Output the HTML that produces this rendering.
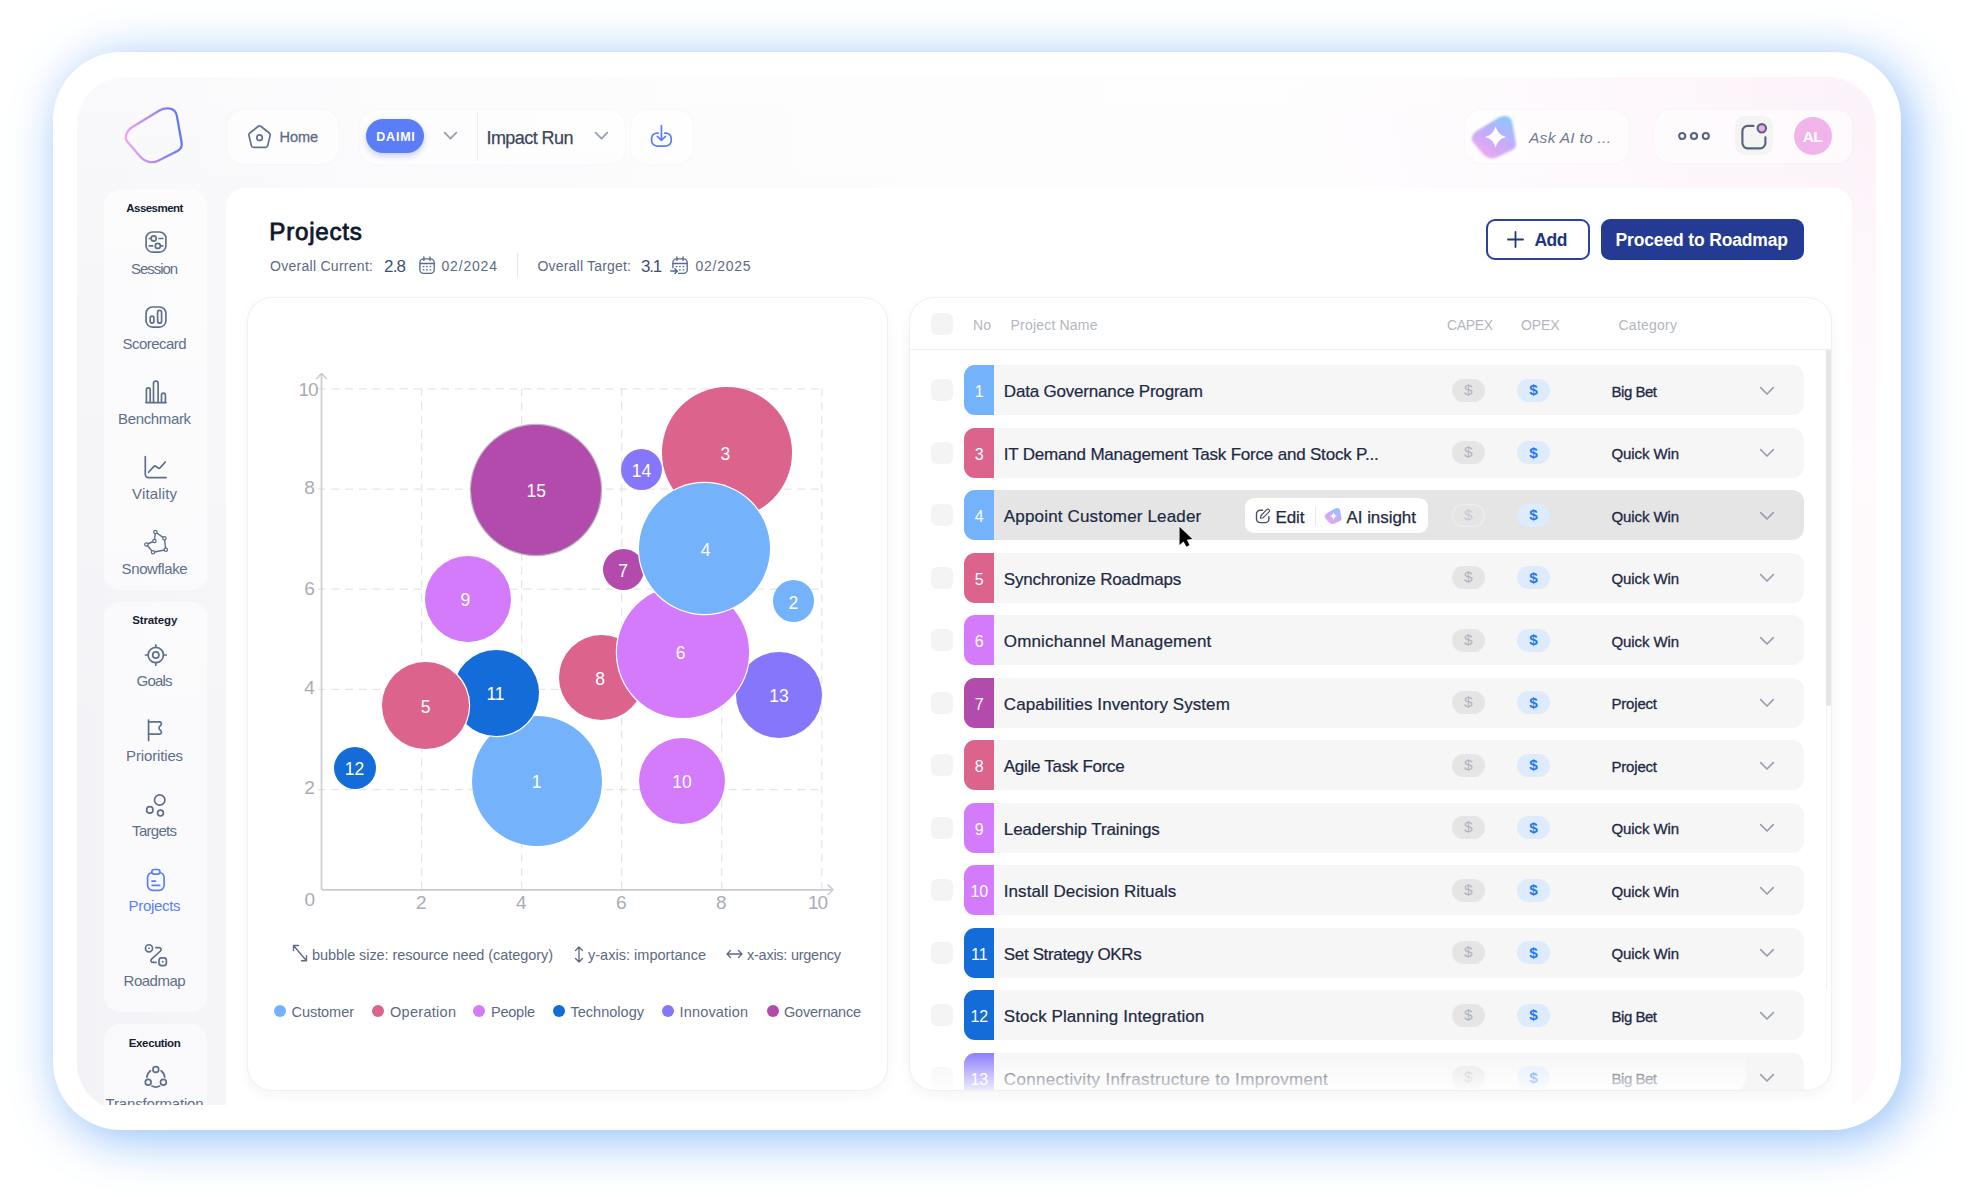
<!DOCTYPE html>
<html lang="en">
<head>
<meta charset="utf-8">
<title>Projects</title>
<style>
html,body{margin:0;padding:0;background:#fff;}
body{width:1968px;height:1197px;overflow:hidden;position:relative;font-family:'Liberation Sans',sans-serif;}
.abs,.t,svg.i{position:absolute;}
.t{white-space:pre;display:block;}
.frame{left:52.5px;top:52px;width:1848px;height:1077.5px;border-radius:68px;background:#fff;
 box-shadow:8px 8px 50px 0 rgba(113,173,247,.8);}
.innerclip{left:77px;top:77px;width:1799px;height:1028px;overflow:hidden;}
.inner{left:0;top:0;width:1799px;height:1034px;border-radius:48px;
 background:radial-gradient(ellipse 600px 400px at 100% 0,rgba(249,222,242,.34) 0,rgba(250,230,245,.18) 50%,rgba(252,240,248,0) 100%),linear-gradient(180deg,rgba(255,255,255,.55) 0,rgba(255,255,255,.35) 120px,rgba(255,255,255,0) 700px),linear-gradient(90deg,#f3f3f7 0%,#f7f7fa 14%,#fbfbfc 45%,#fdfcfd 72%,#fef9fc 100%);}
.main{left:226.200px;top:188.400px;width:1625.600px;height:930px;background:#fff;border-radius:19px 19px 0 0;}
.pill{background:rgba(255,255,255,.5);border-radius:16px;box-shadow:0 0 0 1px rgba(238,238,243,.22);}
.grp{background:rgba(255,255,255,.52);border-radius:16px;}
.card{background:#fff;border-radius:24px;box-shadow:0 0 0 1px #f0f0f2,0 5px 14px rgba(40,45,70,.05);}
.row{left:964px;width:840px;height:50px;border-radius:12px;background:#f6f6f6;}
.tab{left:964px;width:30px;height:50px;border-radius:11px 0 0 11px;}
.cb{left:930.5px;width:22px;height:22px;border-radius:6px;background:#f4f4f4;}
.cap{left:1452px;width:33px;height:23px;border-radius:12px;background:#e5e5e5;}
.opx{left:1517px;width:33px;height:23px;border-radius:12px;background:#deebfd;}
svg.i{overflow:visible;fill:none;stroke-linecap:round;stroke-linejoin:round;}
.bub{border-radius:50%;}
</style>
</head>
<body>
<div class="abs frame"></div>
<div class="abs innerclip"><div class="abs inner"></div></div>
<div class="abs" style="left:0;top:0;width:226px;height:1105px;overflow:hidden"><div class="abs grp" style="left:104px;top:190px;width:103px;height:400px"></div>
<div class="abs grp" style="left:104px;top:602px;width:103px;height:410px"></div>
<div class="abs grp" style="left:104px;top:1024px;width:103px;height:200px"></div>
<svg class="i" style="left:143.9px;top:230.0px;" width="24" height="24" viewBox="0 0 24 24" stroke="#5f6f8a" stroke-width="1.68"><rect x="2.1" y="2" width="19.8" height="20.1" rx="6.3"/><circle cx="9.66" cy="8.5" r="2.55"/><path d="M5.300 8.500h1.300M15 8.500h3.800"/><circle cx="13.8" cy="15.9" r="2.55"/><path d="M5.300 15.900h3.300M17.200 15.900h1.600"/></svg>
<svg class="i" style="left:143.9px;top:305.0px;" width="24" height="24" viewBox="0 0 24 24" stroke="#5f6f8a" stroke-width="1.68"><rect x="2.1" y="2" width="19.8" height="20.1" rx="6.3"/><rect x="6.2" y="11.2" width="3.700" height="7" rx="1.850"/><rect x="13.600" y="5.400" width="4" height="12.800" rx="2"/></svg>
<svg class="i" style="left:143.9px;top:380.0px;" width="24" height="24" viewBox="0 0 24 24" stroke="#5f6f8a" stroke-width="1.68"><path d="M2 22.600h20"/><path d="M2.400 22.300V9.700a1.900 1.900 0 0 1 3.800 0V22.300"/><path d="M9.500 22.300V3.500a2.300 2.300 0 0 1 4.600 0V22.300"/><path d="M17.500 22.300V15.100a1.950 1.950 0 0 1 3.900 0V22.300"/></svg>
<svg class="i" style="left:143.9px;top:455.0px;" width="24" height="24" viewBox="0 0 24 24" stroke="#5f6f8a" stroke-width="1.68"><path d="M1.300 1.700v17.700a3.200 3.200 0 0 0 3.200 3.200h17.600"/><path d="M4.600 17.300l5.400-5.900a1.200 1.200 0 0 1 1.600-.2l2.600 1.800a1.400 1.400 0 0 0 1.800-.2l5.300-5.800"/></svg>
<svg class="i" style="left:143.9px;top:530.0px;" width="24" height="24" viewBox="0 0 24 24" stroke="#5f6f8a" stroke-width="1.68"><path d="M11.400 2L20.400 8.350 21.800 19.700 9.050 22.200 2.400 14.500 10.400 11z" stroke-width="1.400"/><g fill="#fafafc" stroke-width="1.250"><circle cx="11.400" cy="2" r="1.700"/><circle cx="20.400" cy="8.350" r="1.700"/><circle cx="21.800" cy="19.700" r="1.700"/><circle cx="9.050" cy="22.200" r="1.700"/><circle cx="2.400" cy="14.500" r="1.700"/><circle cx="10.400" cy="11" r="1.700"/></g></svg>
<svg class="i" style="left:143.9px;top:642.5px;" width="24" height="24" viewBox="0 0 24 24" stroke="#5f6f8a" stroke-width="1.68"><circle cx="11.800" cy="12" r="7.700"/><circle cx="11.800" cy="12" r="3.100"/><path d="M11.800 1.800v2.500M11.800 19.700v2.500M1.400 12h2.700M19.500 12h2.700"/></svg>
<svg class="i" style="left:143.9px;top:717.5px;" width="24" height="24" viewBox="0 0 24 24" stroke="#5f6f8a" stroke-width="1.68"><path d="M4.600 2v20.400"/><path d="M4.600 3.800H15.600a1.800 1.800 0 0 1 1.450 2.900L15.300 9a1.600 1.600 0 0 0 0 1.900l1.750 2.300a1.800 1.800 0 0 1-1.450 2.900H4.600"/></svg>
<svg class="i" style="left:143.9px;top:792.5px;" width="24" height="24" viewBox="0 0 24 24" stroke="#5f6f8a" stroke-width="1.68"><circle cx="15.700" cy="7" r="5.200"/><circle cx="5.800" cy="16.900" r="3.200"/><circle cx="16.500" cy="20.100" r="2.900"/></svg>
<svg class="i" style="left:143.9px;top:867.5px;" width="24" height="24" viewBox="0 0 24 24" stroke="#5b7df8" stroke-width="1.68"><rect x="3.600" y="4.500" width="16.500" height="17.800" rx="5"/><rect x="7.800" y="1.500" width="8.100" height="4.700" rx="2.350" fill="#fafafc"/><path d="M8.100 13.200h3.400M8.100 17.300h7.600"/></svg>
<svg class="i" style="left:143.9px;top:942.5px;" width="24" height="24" viewBox="0 0 24 24" stroke="#5f6f8a" stroke-width="1.68"><circle cx="5" cy="5.300" r="3.550"/><circle cx="5" cy="5.300" r=".5" stroke-width="1"/><rect x="15" y="14.800" width="7.400" height="7.800" rx="2.500"/><circle cx="18.600" cy="18.800" r=".5" stroke-width="1"/><path d="M11.900 4.700h3.300a1.900 1.900 0 0 1 1.300 3.300L7.500 16.100a1.900 1.900 0 0 0 1.300 3.300H12"/></svg>
<svg class="i" style="left:143.9px;top:1065.3px;" width="24" height="24" viewBox="0 0 24 24" stroke="#5f6f8a" stroke-width="1.68"><circle cx="11.800" cy="4.500" r="2.900"/><circle cx="4.200" cy="17.250" r="2.900"/><circle cx="19.400" cy="17.250" r="2.900"/><path d="M2.900 12.200A8.900 8.900 0 0 1 6.500 5.700M17.100 5.700a8.900 8.900 0 0 1 3.600 6.500M7.900 21.100a8.900 8.900 0 0 0 7.800 0"/></svg>
<span class="t" style="left:126.30px;top:200.80px;font-size:11.5px;line-height:15px;color:#161e33;font-weight:700;letter-spacing:-0.547px;">Assesment</span>
<span class="t" style="left:131.10px;top:258.60px;font-size:15px;line-height:20px;color:#5f6f8a;letter-spacing:-1.062px;">Session</span>
<span class="t" style="left:122.60px;top:333.60px;font-size:15px;line-height:20px;color:#5f6f8a;letter-spacing:-0.547px;">Scorecard</span>
<span class="t" style="left:118.10px;top:408.60px;font-size:15px;line-height:20px;color:#5f6f8a;letter-spacing:-0.359px;">Benchmark</span>
<span class="t" style="left:132.10px;top:483.60px;font-size:15px;line-height:20px;color:#5f6f8a;letter-spacing:0.154px;">Vitality</span>
<span class="t" style="left:121.60px;top:558.60px;font-size:15px;line-height:20px;color:#5f6f8a;letter-spacing:-0.402px;">Snowflake</span>
<span class="t" style="left:132.30px;top:613.10px;font-size:11.5px;line-height:15px;color:#161e33;font-weight:700;letter-spacing:-0.147px;">Strategy</span>
<span class="t" style="left:136.60px;top:671.10px;font-size:15px;line-height:20px;color:#5f6f8a;letter-spacing:-0.797px;">Goals</span>
<span class="t" style="left:126.10px;top:746.10px;font-size:15px;line-height:20px;color:#5f6f8a;letter-spacing:-0.151px;">Priorities</span>
<span class="t" style="left:132.10px;top:821.10px;font-size:15px;line-height:20px;color:#5f6f8a;letter-spacing:-0.701px;">Targets</span>
<span class="t" style="left:128.60px;top:896.10px;font-size:15px;line-height:20px;color:#5b7df8;letter-spacing:-0.312px;">Projects</span>
<span class="t" style="left:123.60px;top:971.10px;font-size:15px;line-height:20px;color:#5f6f8a;letter-spacing:-0.508px;">Roadmap</span>
<span class="t" style="left:128.80px;top:1035.50px;font-size:11.5px;line-height:15px;color:#161e33;font-weight:700;letter-spacing:-0.371px;">Execution</span>
<span class="t" style="left:105.60px;top:1093.90px;font-size:15px;line-height:20px;color:#5f6f8a;letter-spacing:-0.178px;">Transformation</span></div>
<div class="abs main"></div>
<svg class="i" style="left:122px;top:104px" width="64" height="64" viewBox="0 0 64 64" stroke-width="2.250">
<defs><linearGradient id="lg" x1="0" y1="0.55" x2="1" y2="0.45"><stop offset="0" stop-color="#efa6ea"/><stop offset=".5" stop-color="#ab8bf0"/><stop offset="1" stop-color="#5a76f6"/></linearGradient></defs>
<path d="M37.4 6.500C44.2 2.500 53.4 4 54.8 11.600L59.5 37.8C60.4 42.7 59.1 45.3 55.5 47.1L36.1 56.8C30.7 59.5 23.250 58.6 17.4 51.8L5.4 37.8C2.150 34 4.050 27 10 23.300Z" stroke="url(#lg)"/></svg>
<div class="abs pill" style="left:227px;top:109.5px;width:111px;height:54px"></div>
<div class="abs pill" style="left:360px;top:109.5px;width:264.5px;height:54px"></div>
<div class="abs" style="left:476.5px;top:112px;width:1px;height:49px;background:#eeeef2"></div>
<div class="abs pill" style="left:630.600px;top:109.5px;width:62.400px;height:54px"></div>
<div class="abs pill" style="left:1465px;top:109.5px;width:164px;height:53px"></div>
<div class="abs pill" style="left:1655px;top:109.5px;width:197px;height:53px"></div>
<svg class="i" style="left:246.6px;top:123.6px;" width="25.1" height="25.7" viewBox="0 0 24 24" preserveAspectRatio="none" stroke="#64738c" stroke-width="1.65"><path d="M10.6 2.3a2.3 2.3 0 0 1 2.8 0l7.9 6.1a2.3 2.3 0 0 1 .8 2.4l-2.2 9.2a2.3 2.3 0 0 1-2.2 1.8H6.3a2.3 2.3 0 0 1-2.2-1.8L1.900 10.8a2.3 2.3 0 0 1 .8-2.4z"/><circle cx="12" cy="12.8" r="2.6"/></svg>
<div class="abs" style="left:366px;top:119px;width:58px;height:34px;border-radius:17px;background:#5b7df8;box-shadow:0 3px 6px rgba(60,90,200,.28)"></div>
<svg class="i" style="left:443.5px;top:132.3px;" width="13" height="7.5" viewBox="0 0 13 7.5" stroke="#9aa1ad" stroke-width="1.9"><path d="M.700 .700l5.800 5.900 5.800-5.900"/></svg>
<svg class="i" style="left:594.9px;top:132.3px;" width="13" height="7.5" viewBox="0 0 13 7.5" stroke="#9aa1ad" stroke-width="1.9"><path d="M.700 .700l5.800 5.900 5.800-5.900"/></svg>
<svg class="i" style="left:0px;top:0px;" width="800" height="200" viewBox="0 0 800 200" stroke="#5b7df8" stroke-width="1.7"><path d="M661.400 125.700V140.200M657.300 136.300l4.100 4.100 4.100-4.100"/><path d="M658.200 133.100H657a5.400 5.400 0 0 0-5.400 5.400v2.150a5.400 5.400 0 0 0 5.400 5.400h8.800a5.400 5.400 0 0 0 5.400-5.400V138.500a5.400 5.400 0 0 0-5.400-5.400h-1.200"/></svg>
<svg class="i" style="left:0;top:0" width="1968" height="200" viewBox="0 0 1968 200" stroke="none">
<defs><linearGradient id="ag" x1="0.25" y1="1" x2="0.8" y2="0"><stop offset="0" stop-color="#efa8ee"/><stop offset=".5" stop-color="#c3acfa"/><stop offset="1" stop-color="#8ac6fe"/></linearGradient>
<filter id="ab" x="-20%" y="-20%" width="140%" height="140%"><feGaussianBlur stdDeviation="1.300"/></filter></defs>
<g transform="translate(1468.800 112.500) scale(.79)"><path filter="url(#ab)" d="M37.4 6.500C44.2 2.500 53.4 4 54.8 11.600L59.5 37.8C60.4 42.7 59.1 45.3 55.5 47.1L36.1 56.8C30.7 59.5 23.250 58.6 17.4 51.8L5.4 37.8C2.150 34 4.050 27 10 23.300Z" fill="url(#ag)"/></g>
<path transform="translate(1495.600 137)" d="M0 -10.700C1.800 -4.600 4.600 -1.800 10.600 0C4.600 1.800 1.800 4.600 0 10.700C-1.800 4.600 -4.600 1.800 -10.600 0C-4.600 -1.800 -1.800 -4.600 0 -10.700Z" fill="#fff"/></svg>
<svg class="i" style="left:1676px;top:130.3px;" width="36" height="12" viewBox="0 0 36 12" stroke="#566480" stroke-width="2.1"><circle cx="6.200" cy="6" r="3.050"/><circle cx="18" cy="6" r="3.050"/><circle cx="29.800" cy="6" r="3.050"/></svg>
<div class="abs" style="left:1735px;top:116px;width:38px;height:39px;border-radius:10px;background:#f4f4f5"></div>
<svg class="i" style="left:1740px;top:123px;" width="28" height="28" viewBox="0 0 28 28" stroke="#566480" stroke-width="2.15"><path d="M13.500 2.900H7.600a5.200 5.200 0 0 0-5.200 5.200v12a5.200 5.200 0 0 0 5.200 5.200h12.600a5.200 5.200 0 0 0 5.200-5.200V14.300"/><circle cx="21.800" cy="5.300" r="4.200" fill="#f4aaea"/></svg>
<div class="abs" style="left:1793.5px;top:117px;width:38px;height:38px;border-radius:50%;background:#f1b4ea"></div>
<div class="abs" style="left:517px;top:253px;width:1.4px;height:24px;background:#e3e3e7"></div>
<svg class="i" style="left:417.5px;top:255.5px;" width="18" height="18" viewBox="0 0 18 18" stroke="#5a6a8c" stroke-width="1.35"><rect x="1.900" y="2.800" width="14.300" height="14.600" rx="3.600"/><path d="M5.900 1v3.400M12 1v3.400M2.200 7.500h13.700"/><path d="M5.100 10.600h.8M8.500 10.600h.8M12 10.600h.8M5.100 13.900h.8M8.500 13.900h.8M12 13.900h.8" stroke-width="1.100"/></svg>
<svg class="i" style="left:671.1px;top:255.5px;" width="18" height="18" viewBox="0 0 18 18" stroke="#5a6a8c" stroke-width="1.35"><path d="M1.900 11.800V6.400a3.600 3.600 0 0 1 3.600-3.600h7.100a3.600 3.600 0 0 1 3.600 3.600v7.400a3.600 3.600 0 0 1-3.600 3.600H7.600"/><path d="M5.900 1v3.400M12 1v3.400M2.200 7.500h13.700"/><path d="M5.100 10.600h.8M8.500 10.600h.8M12 10.600h.8M8.500 13.900h.8M12 13.900h.8" stroke-width="1.100"/><path d="M-.300 15.100h5.800M3.900 12.700l2.400 2.400-2.400 2.400" stroke-width="1.500"/></svg>
<div class="abs" style="left:1485.5px;top:219px;width:104.500px;height:40.500px;box-sizing:border-box;border:2px solid #2c419a;border-radius:9px;background:#fff"></div>
<svg class="i" style="left:1507px;top:231px;" width="17" height="17" viewBox="0 0 17 17" stroke="#22357f" stroke-width="1.8"><path d="M8.500 1v15M1 8.500h15"/></svg>
<div class="abs" style="left:1600.5px;top:219px;width:203.500px;height:40.500px;border-radius:9px;background:#253b93"></div>
<div class="abs card" style="left:247.5px;top:298px;width:639.700px;height:791.500px"></div>
<svg class="i" style="left:0;top:0" width="1968" height="1197" viewBox="0 0 1968 1197"><path d="M421.6 889V389" stroke="#e5e5e8" stroke-width="1.25" stroke-dasharray="7 6.7"/><path d="M318.2 789.6H822" stroke="#e5e5e8" stroke-width="1.25" stroke-dasharray="7 6.7"/><path d="M521.6 889V389" stroke="#e5e5e8" stroke-width="1.25" stroke-dasharray="7 6.7"/><path d="M318.2 689.4H822" stroke="#e5e5e8" stroke-width="1.25" stroke-dasharray="7 6.7"/><path d="M621.7 889V389" stroke="#e5e5e8" stroke-width="1.25" stroke-dasharray="7 6.7"/><path d="M318.2 589.2H822" stroke="#e5e5e8" stroke-width="1.25" stroke-dasharray="7 6.7"/><path d="M721.7 889V389" stroke="#e5e5e8" stroke-width="1.25" stroke-dasharray="7 6.7"/><path d="M318.2 489.0H822" stroke="#e5e5e8" stroke-width="1.25" stroke-dasharray="7 6.7"/><path d="M821.8 889V389" stroke="#e5e5e8" stroke-width="1.25" stroke-dasharray="7 6.7"/><path d="M318.2 388.8H822" stroke="#e5e5e8" stroke-width="1.25" stroke-dasharray="7 6.7"/><path d="M321.500 374V888.300a1.500 1.500 0 0 0 1.500 1.500H832.500" stroke="#c9ccd2" stroke-width="1.650" fill="none"/><path d="M316.600 378.600l4.900-5 4.900 5M828 884.900l5 4.900-5 4.900" stroke="#c9ccd2" stroke-width="1.500" fill="none"/></svg>
<div class="abs bub" style="left:661.6px;top:387.2px;width:130.8px;height:130.8px;background:#db638c;"></div>
<div class="abs bub" style="left:471.0px;top:424.8px;width:130.4px;height:130.4px;background:#b34bad;box-shadow:0 0 0 1.2px #b9b9c4;"></div>
<div class="abs bub" style="left:621.1px;top:448.9px;width:41.0px;height:41.0px;background:#8676fb;"></div>
<div class="abs bub" style="left:736.0px;top:651.5px;width:86.0px;height:86.0px;background:#8676fb;"></div>
<div class="abs bub" style="left:558.8px;top:634.8px;width:85.4px;height:85.4px;background:#db638c;"></div>
<div class="abs bub" style="left:617.4px;top:586.4px;width:131.2px;height:131.2px;background:#d47bfc;box-shadow:0 0 0 1.2px #fff;"></div>
<div class="abs bub" style="left:602.6px;top:548.9px;width:41.2px;height:41.2px;background:#b34bad;"></div>
<div class="abs bub" style="left:639.0px;top:482.9px;width:131.0px;height:131.0px;background:#74b3fc;box-shadow:0 0 0 1.2px #fff;"></div>
<div class="abs bub" style="left:772.5px;top:580.4px;width:41.6px;height:41.6px;background:#74b3fc;"></div>
<div class="abs bub" style="left:425.0px;top:555.7px;width:86.0px;height:86.0px;background:#d47bfc;"></div>
<div class="abs bub" style="left:471.5px;top:715.8px;width:130.0px;height:130.0px;background:#74b3fc;"></div>
<div class="abs bub" style="left:452.5px;top:650.0px;width:86.0px;height:86.0px;background:#136cd8;box-shadow:0 0 0 1.2px #fff;"></div>
<div class="abs bub" style="left:382.2px;top:662.2px;width:86.6px;height:86.6px;background:#db638c;box-shadow:0 0 0 1.2px #fff;"></div>
<div class="abs bub" style="left:333.5px;top:746.5px;width:42.0px;height:42.0px;background:#136cd8;"></div>
<div class="abs bub" style="left:639.0px;top:737.8px;width:86.0px;height:86.0px;background:#d47bfc;"></div>
<svg class="i" style="left:291.5px;top:944.3px;" width="16" height="19" viewBox="0 0 16 19" stroke="#5c6a83" stroke-width="1.35"><path d="M1.500 1.500l13 15.200M1.500 6.500v-5h5M9.500 16.700h5v-5"/></svg>
<svg class="i" style="left:573.5px;top:945.5px;" width="10" height="17" viewBox="0 0 10 17" stroke="#5c6a83" stroke-width="1.3"><path d="M5 1v15M1.500 4.500L5 1l3.500 3.500M1.500 12.500L5 16l3.500-3.500"/></svg>
<svg class="i" style="left:725.5px;top:949px;" width="17" height="10" viewBox="0 0 17 10" stroke="#5c6a83" stroke-width="1.3"><path d="M1 5h15M4.500 1.500L1 5l3.500 3.500M12.500 1.500L16 5l-3.500 3.500"/></svg>
<div class="abs bub" style="left:274.3px;top:1005.0px;width:12px;height:12px;background:#74b3fc"></div>
<div class="abs bub" style="left:372.3px;top:1005.0px;width:12px;height:12px;background:#db638c"></div>
<div class="abs bub" style="left:473.0px;top:1005.0px;width:12px;height:12px;background:#d47bfc"></div>
<div class="abs bub" style="left:553.0px;top:1005.0px;width:12px;height:12px;background:#136cd8"></div>
<div class="abs bub" style="left:662.0px;top:1005.0px;width:12px;height:12px;background:#8676fb"></div>
<div class="abs bub" style="left:766.5px;top:1005.0px;width:12px;height:12px;background:#b34bad"></div>
<div class="abs card" style="left:910px;top:298px;width:920.500px;height:792px;overflow:hidden" id="list"><div class="abs" style="left:-910px;top:-298px;width:1968px;height:1197px"><div class="abs cb" style="top:313px"></div>
<div class="abs" style="left:910px;top:348.500px;width:921px;height:1.500px;background:#efeff1"></div>
<div class="abs" style="left:1825.500px;top:350px;width:1px;height:640px;background:#f3f3f4"></div>
<div class="abs" style="left:1826px;top:350px;width:4.500px;height:355.500px;background:#e6e6e6;border-radius:0 0 2px 2px"></div>
<div class="abs cb" style="top:379.0px"></div>
<div class="abs row" style="top:365.0px;"></div>
<div class="abs tab" style="top:365.0px;background:#74b3fc"></div>
<div class="abs cap" style="top:378.7px"></div>
<div class="abs opx" style="top:378.7px"></div>
<svg class="i" style="left:1759.5px;top:386.5px;" width="14" height="8" viewBox="0 0 14 8" stroke="#9aa0ab" stroke-width="1.7"><path d="M.700 .700l6.300 6.300 6.300-6.300"/></svg>
<div class="abs cb" style="top:441.5px"></div>
<div class="abs row" style="top:427.5px;"></div>
<div class="abs tab" style="top:427.5px;background:#db638c"></div>
<div class="abs cap" style="top:441.2px"></div>
<div class="abs opx" style="top:441.2px"></div>
<svg class="i" style="left:1759.5px;top:449.0px;" width="14" height="8" viewBox="0 0 14 8" stroke="#9aa0ab" stroke-width="1.7"><path d="M.700 .700l6.300 6.300 6.300-6.300"/></svg>
<div class="abs cb" style="top:504.0px"></div>
<div class="abs row" style="top:490.0px;background:#e5e5e5;"></div>
<div class="abs tab" style="top:490.0px;background:#74b3fc"></div>
<div class="abs cap" style="top:503.7px;background:#e5e5e5;box-shadow:inset 0 0 0 1.2px #efefef"></div>
<div class="abs opx" style="top:503.7px"></div>
<svg class="i" style="left:1759.5px;top:511.5px;" width="14" height="8" viewBox="0 0 14 8" stroke="#9aa0ab" stroke-width="1.7"><path d="M.700 .700l6.300 6.300 6.300-6.300"/></svg>
<div class="abs cb" style="top:566.5px"></div>
<div class="abs row" style="top:552.5px;"></div>
<div class="abs tab" style="top:552.5px;background:#db638c"></div>
<div class="abs cap" style="top:566.2px"></div>
<div class="abs opx" style="top:566.2px"></div>
<svg class="i" style="left:1759.5px;top:574.0px;" width="14" height="8" viewBox="0 0 14 8" stroke="#9aa0ab" stroke-width="1.7"><path d="M.700 .700l6.300 6.300 6.300-6.300"/></svg>
<div class="abs cb" style="top:629.0px"></div>
<div class="abs row" style="top:615.0px;"></div>
<div class="abs tab" style="top:615.0px;background:#d47bfc"></div>
<div class="abs cap" style="top:628.7px"></div>
<div class="abs opx" style="top:628.7px"></div>
<svg class="i" style="left:1759.5px;top:636.5px;" width="14" height="8" viewBox="0 0 14 8" stroke="#9aa0ab" stroke-width="1.7"><path d="M.700 .700l6.300 6.300 6.300-6.300"/></svg>
<div class="abs cb" style="top:691.5px"></div>
<div class="abs row" style="top:677.5px;"></div>
<div class="abs tab" style="top:677.5px;background:#b34bad"></div>
<div class="abs cap" style="top:691.2px"></div>
<div class="abs opx" style="top:691.2px"></div>
<svg class="i" style="left:1759.5px;top:699.0px;" width="14" height="8" viewBox="0 0 14 8" stroke="#9aa0ab" stroke-width="1.7"><path d="M.700 .700l6.300 6.300 6.300-6.300"/></svg>
<div class="abs cb" style="top:754.0px"></div>
<div class="abs row" style="top:740.0px;"></div>
<div class="abs tab" style="top:740.0px;background:#db638c"></div>
<div class="abs cap" style="top:753.7px"></div>
<div class="abs opx" style="top:753.7px"></div>
<svg class="i" style="left:1759.5px;top:761.5px;" width="14" height="8" viewBox="0 0 14 8" stroke="#9aa0ab" stroke-width="1.7"><path d="M.700 .700l6.300 6.300 6.300-6.300"/></svg>
<div class="abs cb" style="top:816.5px"></div>
<div class="abs row" style="top:802.5px;"></div>
<div class="abs tab" style="top:802.5px;background:#d47bfc"></div>
<div class="abs cap" style="top:816.2px"></div>
<div class="abs opx" style="top:816.2px"></div>
<svg class="i" style="left:1759.5px;top:824.0px;" width="14" height="8" viewBox="0 0 14 8" stroke="#9aa0ab" stroke-width="1.7"><path d="M.700 .700l6.300 6.300 6.300-6.300"/></svg>
<div class="abs cb" style="top:879.0px"></div>
<div class="abs row" style="top:865.0px;"></div>
<div class="abs tab" style="top:865.0px;background:#d47bfc"></div>
<div class="abs cap" style="top:878.7px"></div>
<div class="abs opx" style="top:878.7px"></div>
<svg class="i" style="left:1759.5px;top:886.5px;" width="14" height="8" viewBox="0 0 14 8" stroke="#9aa0ab" stroke-width="1.7"><path d="M.700 .700l6.300 6.300 6.300-6.300"/></svg>
<div class="abs cb" style="top:941.5px"></div>
<div class="abs row" style="top:927.5px;"></div>
<div class="abs tab" style="top:927.5px;background:#136cd8"></div>
<div class="abs cap" style="top:941.2px"></div>
<div class="abs opx" style="top:941.2px"></div>
<svg class="i" style="left:1759.5px;top:949.0px;" width="14" height="8" viewBox="0 0 14 8" stroke="#9aa0ab" stroke-width="1.7"><path d="M.700 .700l6.300 6.300 6.300-6.300"/></svg>
<div class="abs cb" style="top:1004.0px"></div>
<div class="abs row" style="top:990.0px;"></div>
<div class="abs tab" style="top:990.0px;background:#136cd8"></div>
<div class="abs cap" style="top:1003.7px"></div>
<div class="abs opx" style="top:1003.7px"></div>
<svg class="i" style="left:1759.5px;top:1011.5px;" width="14" height="8" viewBox="0 0 14 8" stroke="#9aa0ab" stroke-width="1.7"><path d="M.700 .700l6.300 6.300 6.300-6.300"/></svg>
<div class="abs cb" style="top:1066.5px"></div>
<div class="abs row" style="top:1052.5px;"></div>
<div class="abs tab" style="top:1052.5px;background:#8676fb"></div>
<div class="abs cap" style="top:1066.2px"></div>
<div class="abs opx" style="top:1066.2px"></div>
<svg class="i" style="left:1759.5px;top:1074.0px;" width="14" height="8" viewBox="0 0 14 8" stroke="#9aa0ab" stroke-width="1.7"><path d="M.700 .700l6.300 6.300 6.300-6.300"/></svg>
<div class="abs" style="left:1244.500px;top:498px;width:183px;height:35px;border-radius:9px;background:#fff"></div>
<svg class="i" style="left:1254.5px;top:508.3px;" width="15" height="15" viewBox="0 0 15 15" stroke="#465066" stroke-width="1.4"><path d="M7.500 2.200H5.200a3.700 3.700 0 0 0-3.700 3.700v5a3.700 3.700 0 0 0 3.700 3.700h5a3.700 3.700 0 0 0 3.700-3.700V8.600"/><path d="M11.700 1.600a1.600 1.600 0 0 1 2.300 2.300L8.200 9.700l-2.800.600.600-2.800z" stroke-width="1.150"/></svg>
<div class="abs" style="left:1315px;top:506.500px;width:1.200px;height:18px;background:#e8e8ea"></div>
<svg class="i" style="left:0;top:0" width="1968" height="600" viewBox="0 0 1968 600" stroke="none">
<g transform="translate(1323.600 506.600) scale(.3)"><path d="M37.4 6.500C44.2 2.500 53.4 4 54.8 11.600L59.5 37.8C60.4 42.7 59.1 45.3 55.5 47.1L36.1 56.8C30.7 59.5 23.250 58.6 17.4 51.8L5.4 37.8C2.150 34 4.050 27 10 23.300Z" fill="url(#ag)"/></g>
<path transform="translate(1333.500 516) scale(.36)" d="M0 -10.700C1.800 -4.600 4.600 -1.800 10.600 0C4.600 1.800 1.800 4.600 0 10.700C-1.800 4.600 -4.600 1.800 -10.600 0C-4.600 -1.800 -1.800 -4.600 0 -10.700Z" fill="#fff"/></svg>
<div class="abs" style="z-index:5;left:910px;top:1050px;width:836px;height:42px;border-radius:0 0 14px 0;background:linear-gradient(180deg,rgba(255,255,255,0) 0,rgba(255,255,255,.5) 55%,rgba(255,255,255,.88) 100%)"></div>
<span class="t" style="left:973.00px;top:316.00px;font-size:14px;line-height:18px;color:#b3b6bd;letter-spacing:0.094px;">No</span>
<span class="t" style="left:1010.50px;top:316.00px;font-size:14px;line-height:18px;color:#b3b6bd;letter-spacing:0.199px;">Project Name</span>
<span class="t" style="left:1447.00px;top:316.00px;font-size:14px;line-height:18px;color:#b3b6bd;letter-spacing:-0.367px;">CAPEX</span>
<span class="t" style="left:1521.00px;top:316.00px;font-size:14px;line-height:18px;color:#b3b6bd;letter-spacing:-0.135px;">OPEX</span>
<span class="t" style="left:1618.50px;top:316.00px;font-size:14px;line-height:18px;color:#b3b6bd;letter-spacing:0.241px;">Category</span>
<span class="t" style="left:974.85px;top:381.00px;font-size:16px;line-height:21px;color:#fff;">1</span>
<span class="t" style="left:1003.80px;top:381.10px;font-size:17px;line-height:22px;color:#1e2a44;letter-spacing:-0.189px;-webkit-text-stroke:.22px #1e2a44;">Data Governance Program</span>
<span class="t" style="left:1463.99px;top:379.70px;font-size:15.5px;line-height:20px;color:#aeb3c0;">$</span>
<span class="t" style="left:1529.24px;top:380.10px;font-size:15.3px;line-height:20px;color:#1f78ef;font-weight:700;">$</span>
<span class="t" style="left:1611.50px;top:381.50px;font-size:15px;line-height:20px;color:#1e2a44;letter-spacing:-0.479px;-webkit-text-stroke:.3px #1e2a44;">Big Bet</span>
<span class="t" style="left:974.85px;top:443.50px;font-size:16px;line-height:21px;color:#fff;">3</span>
<span class="t" style="left:1003.80px;top:443.60px;font-size:17px;line-height:22px;color:#1e2a44;letter-spacing:-0.192px;-webkit-text-stroke:.22px #1e2a44;">IT Demand Management Task Force and Stock P...</span>
<span class="t" style="left:1463.99px;top:442.20px;font-size:15.5px;line-height:20px;color:#aeb3c0;">$</span>
<span class="t" style="left:1529.24px;top:442.60px;font-size:15.3px;line-height:20px;color:#1f78ef;font-weight:700;">$</span>
<span class="t" style="left:1611.50px;top:444.00px;font-size:15px;line-height:20px;color:#1e2a44;letter-spacing:-0.105px;-webkit-text-stroke:.3px #1e2a44;">Quick Win</span>
<span class="t" style="left:974.85px;top:506.00px;font-size:16px;line-height:21px;color:#fff;">4</span>
<span class="t" style="left:1003.80px;top:506.10px;font-size:17px;line-height:22px;color:#1e2a44;letter-spacing:0.171px;-webkit-text-stroke:.22px #1e2a44;">Appoint Customer Leader</span>
<span class="t" style="left:1463.99px;top:504.70px;font-size:15.5px;line-height:20px;color:#c6c9d2;">$</span>
<span class="t" style="left:1529.24px;top:505.10px;font-size:15.3px;line-height:20px;color:#1f78ef;font-weight:700;">$</span>
<span class="t" style="left:1611.50px;top:506.50px;font-size:15px;line-height:20px;color:#1e2a44;letter-spacing:-0.105px;-webkit-text-stroke:.3px #1e2a44;">Quick Win</span>
<span class="t" style="left:974.85px;top:568.50px;font-size:16px;line-height:21px;color:#fff;">5</span>
<span class="t" style="left:1003.80px;top:568.60px;font-size:17px;line-height:22px;color:#1e2a44;letter-spacing:-0.157px;-webkit-text-stroke:.22px #1e2a44;">Synchronize Roadmaps</span>
<span class="t" style="left:1463.99px;top:567.20px;font-size:15.5px;line-height:20px;color:#aeb3c0;">$</span>
<span class="t" style="left:1529.24px;top:567.60px;font-size:15.3px;line-height:20px;color:#1f78ef;font-weight:700;">$</span>
<span class="t" style="left:1611.50px;top:569.00px;font-size:15px;line-height:20px;color:#1e2a44;letter-spacing:-0.105px;-webkit-text-stroke:.3px #1e2a44;">Quick Win</span>
<span class="t" style="left:974.85px;top:631.00px;font-size:16px;line-height:21px;color:#fff;">6</span>
<span class="t" style="left:1003.80px;top:631.10px;font-size:17px;line-height:22px;color:#1e2a44;letter-spacing:0.161px;-webkit-text-stroke:.22px #1e2a44;">Omnichannel Management</span>
<span class="t" style="left:1463.99px;top:629.70px;font-size:15.5px;line-height:20px;color:#aeb3c0;">$</span>
<span class="t" style="left:1529.24px;top:630.10px;font-size:15.3px;line-height:20px;color:#1f78ef;font-weight:700;">$</span>
<span class="t" style="left:1611.50px;top:631.50px;font-size:15px;line-height:20px;color:#1e2a44;letter-spacing:-0.105px;-webkit-text-stroke:.3px #1e2a44;">Quick Win</span>
<span class="t" style="left:974.85px;top:693.50px;font-size:16px;line-height:21px;color:#fff;">7</span>
<span class="t" style="left:1003.80px;top:693.60px;font-size:17px;line-height:22px;color:#1e2a44;letter-spacing:0.074px;-webkit-text-stroke:.22px #1e2a44;">Capabilities Inventory System</span>
<span class="t" style="left:1463.99px;top:692.20px;font-size:15.5px;line-height:20px;color:#aeb3c0;">$</span>
<span class="t" style="left:1529.24px;top:692.60px;font-size:15.3px;line-height:20px;color:#1f78ef;font-weight:700;">$</span>
<span class="t" style="left:1611.50px;top:694.00px;font-size:15px;line-height:20px;color:#1e2a44;letter-spacing:-0.198px;-webkit-text-stroke:.3px #1e2a44;">Project</span>
<span class="t" style="left:974.85px;top:756.00px;font-size:16px;line-height:21px;color:#fff;">8</span>
<span class="t" style="left:1003.80px;top:756.10px;font-size:17px;line-height:22px;color:#1e2a44;letter-spacing:-0.291px;-webkit-text-stroke:.22px #1e2a44;">Agile Task Force</span>
<span class="t" style="left:1463.99px;top:754.70px;font-size:15.5px;line-height:20px;color:#aeb3c0;">$</span>
<span class="t" style="left:1529.24px;top:755.10px;font-size:15.3px;line-height:20px;color:#1f78ef;font-weight:700;">$</span>
<span class="t" style="left:1611.50px;top:756.50px;font-size:15px;line-height:20px;color:#1e2a44;letter-spacing:-0.198px;-webkit-text-stroke:.3px #1e2a44;">Project</span>
<span class="t" style="left:974.85px;top:818.50px;font-size:16px;line-height:21px;color:#fff;">9</span>
<span class="t" style="left:1003.80px;top:818.60px;font-size:17px;line-height:22px;color:#1e2a44;letter-spacing:-0.096px;-webkit-text-stroke:.22px #1e2a44;">Leadership Trainings</span>
<span class="t" style="left:1463.99px;top:817.20px;font-size:15.5px;line-height:20px;color:#aeb3c0;">$</span>
<span class="t" style="left:1529.24px;top:817.60px;font-size:15.3px;line-height:20px;color:#1f78ef;font-weight:700;">$</span>
<span class="t" style="left:1611.50px;top:819.00px;font-size:15px;line-height:20px;color:#1e2a44;letter-spacing:-0.105px;-webkit-text-stroke:.3px #1e2a44;">Quick Win</span>
<span class="t" style="left:970.40px;top:881.00px;font-size:16px;line-height:21px;color:#fff;">10</span>
<span class="t" style="left:1003.80px;top:881.10px;font-size:17px;line-height:22px;color:#1e2a44;letter-spacing:0.065px;-webkit-text-stroke:.22px #1e2a44;">Install Decision Rituals</span>
<span class="t" style="left:1463.99px;top:879.70px;font-size:15.5px;line-height:20px;color:#aeb3c0;">$</span>
<span class="t" style="left:1529.24px;top:880.10px;font-size:15.3px;line-height:20px;color:#1f78ef;font-weight:700;">$</span>
<span class="t" style="left:1611.50px;top:881.50px;font-size:15px;line-height:20px;color:#1e2a44;letter-spacing:-0.105px;-webkit-text-stroke:.3px #1e2a44;">Quick Win</span>
<span class="t" style="left:971.00px;top:943.50px;font-size:16px;line-height:21px;color:#fff;">11</span>
<span class="t" style="left:1003.80px;top:943.60px;font-size:17px;line-height:22px;color:#1e2a44;letter-spacing:-0.352px;-webkit-text-stroke:.22px #1e2a44;">Set Strategy OKRs</span>
<span class="t" style="left:1463.99px;top:942.20px;font-size:15.5px;line-height:20px;color:#aeb3c0;">$</span>
<span class="t" style="left:1529.24px;top:942.60px;font-size:15.3px;line-height:20px;color:#1f78ef;font-weight:700;">$</span>
<span class="t" style="left:1611.50px;top:944.00px;font-size:15px;line-height:20px;color:#1e2a44;letter-spacing:-0.105px;-webkit-text-stroke:.3px #1e2a44;">Quick Win</span>
<span class="t" style="left:970.40px;top:1006.00px;font-size:16px;line-height:21px;color:#fff;">12</span>
<span class="t" style="left:1003.80px;top:1006.10px;font-size:17px;line-height:22px;color:#1e2a44;letter-spacing:0.081px;-webkit-text-stroke:.22px #1e2a44;">Stock Planning Integration</span>
<span class="t" style="left:1463.99px;top:1004.70px;font-size:15.5px;line-height:20px;color:#aeb3c0;">$</span>
<span class="t" style="left:1529.24px;top:1005.10px;font-size:15.3px;line-height:20px;color:#1f78ef;font-weight:700;">$</span>
<span class="t" style="left:1611.50px;top:1006.50px;font-size:15px;line-height:20px;color:#1e2a44;letter-spacing:-0.479px;-webkit-text-stroke:.3px #1e2a44;">Big Bet</span>
<span class="t" style="left:970.40px;top:1068.50px;font-size:16px;line-height:21px;color:#fff;">13</span>
<span class="t" style="left:1003.80px;top:1068.60px;font-size:17px;line-height:22px;color:#1e2a44;letter-spacing:0.329px;-webkit-text-stroke:.22px #1e2a44;">Connectivity Infrastructure to Improvment</span>
<span class="t" style="left:1463.99px;top:1067.20px;font-size:15.5px;line-height:20px;color:#aeb3c0;">$</span>
<span class="t" style="left:1529.24px;top:1067.60px;font-size:15.3px;line-height:20px;color:#1f78ef;font-weight:700;">$</span>
<span class="t" style="left:1611.50px;top:1069.00px;font-size:15px;line-height:20px;color:#1e2a44;letter-spacing:-0.479px;-webkit-text-stroke:.3px #1e2a44;">Big Bet</span>
<span class="t" style="left:1275.50px;top:506.80px;font-size:17px;line-height:22px;color:#1e2a44;letter-spacing:-0.099px;-webkit-text-stroke:.25px #1e2a44;">Edit</span>
<span class="t" style="left:1346.50px;top:506.80px;font-size:17px;line-height:22px;color:#1e2a44;letter-spacing:-0.049px;-webkit-text-stroke:.25px #1e2a44;">AI insight</span></div></div>
<svg class="i" style="left:1176.500px;top:524.500px" width="18" height="24" viewBox="0 0 18 24" stroke="#fff" stroke-width="1.300"><path paint-order="stroke" d="M2.500 1.700V19.900L6.600 16.500 9.400 21.700 12.500 20 9.800 14.800 15.300 14.100z" fill="#000"/></svg>
<span class="t" style="left:279.50px;top:127.50px;font-size:14.5px;line-height:19px;color:#5d6b84;letter-spacing:-0.062px;-webkit-text-stroke:.3px #5d6b84;">Home</span>
<span class="t" style="left:376.30px;top:129.40px;font-size:12.5px;line-height:16px;color:#fff;font-weight:700;letter-spacing:0.770px;">DAIMI</span>
<span class="t" style="left:486.50px;top:126.50px;font-size:18px;line-height:23px;color:#3d475b;letter-spacing:-0.561px;-webkit-text-stroke:.25px #3d475b;">Impact Run</span>
<span class="t" style="left:1529.00px;top:127.80px;font-size:15.5px;line-height:20px;color:#6d7b92;font-style:italic;letter-spacing:0.276px;">Ask AI to ...</span>
<span class="t" style="left:1802.70px;top:126.90px;font-size:15.5px;line-height:20px;color:#fff;font-weight:700;letter-spacing:-0.672px;">AL</span>
<span class="t" style="left:269.30px;top:215.60px;font-size:24.2px;line-height:31px;color:#0f172b;letter-spacing:0.732px;-webkit-text-stroke:.8px #0f172b;">Projects</span>
<span class="t" style="left:270.00px;top:256.60px;font-size:14px;line-height:18px;color:#5c6a83;letter-spacing:0.279px;">Overall Current:</span>
<span class="t" style="left:384.00px;top:255.80px;font-size:17px;line-height:22px;color:#3f5075;letter-spacing:-0.820px;">2.8</span>
<span class="t" style="left:441.50px;top:256.60px;font-size:14px;line-height:18px;color:#5c6a83;letter-spacing:0.815px;">02/2024</span>
<span class="t" style="left:537.50px;top:256.60px;font-size:14px;line-height:18px;color:#5c6a83;letter-spacing:0.194px;">Overall Target:</span>
<span class="t" style="left:641.00px;top:255.80px;font-size:17px;line-height:22px;color:#3f5075;letter-spacing:-1.200px;">3.1</span>
<span class="t" style="left:695.50px;top:256.60px;font-size:14px;line-height:18px;color:#5c6a83;letter-spacing:0.732px;">02/2025</span>
<span class="t" style="left:1534.50px;top:229.10px;font-size:17.5px;line-height:23px;color:#22357f;font-weight:700;letter-spacing:-0.516px;">Add</span>
<span class="t" style="left:1615.50px;top:229.10px;font-size:17.5px;line-height:23px;color:#fff;font-weight:700;letter-spacing:-0.150px;">Proceed to Roadmap</span>
<span class="t" style="left:416.01px;top:889.50px;font-size:19px;line-height:25px;color:#a9acb3;">2</span>
<span class="t" style="left:516.01px;top:889.50px;font-size:19px;line-height:25px;color:#a9acb3;">4</span>
<span class="t" style="left:616.01px;top:889.50px;font-size:19px;line-height:25px;color:#a9acb3;">6</span>
<span class="t" style="left:716.01px;top:889.50px;font-size:19px;line-height:25px;color:#a9acb3;">8</span>
<span class="t" style="left:808.03px;top:889.50px;font-size:19px;line-height:25px;color:#a9acb3;letter-spacing:-1.200px;">10</span>
<span class="t" style="left:304.41px;top:887.00px;font-size:19px;line-height:25px;color:#a9acb3;">0</span>
<span class="t" style="left:304.21px;top:775.30px;font-size:19px;line-height:25px;color:#a9acb3;">2</span>
<span class="t" style="left:304.21px;top:675.10px;font-size:19px;line-height:25px;color:#a9acb3;">4</span>
<span class="t" style="left:304.21px;top:576.10px;font-size:19px;line-height:25px;color:#a9acb3;">6</span>
<span class="t" style="left:304.21px;top:474.70px;font-size:19px;line-height:25px;color:#a9acb3;">8</span>
<span class="t" style="left:298.53px;top:377.00px;font-size:19px;line-height:25px;color:#a9acb3;letter-spacing:-1.200px;">10</span>
<span class="t" style="left:720.43px;top:442.90px;font-size:17.5px;line-height:23px;color:#fff;">3</span>
<span class="t" style="left:526.47px;top:480.30px;font-size:17.5px;line-height:23px;color:#fff;">15</span>
<span class="t" style="left:631.87px;top:459.70px;font-size:17.5px;line-height:23px;color:#fff;">14</span>
<span class="t" style="left:769.27px;top:684.80px;font-size:17.5px;line-height:23px;color:#fff;">13</span>
<span class="t" style="left:595.33px;top:667.80px;font-size:17.5px;line-height:23px;color:#fff;">8</span>
<span class="t" style="left:675.63px;top:642.30px;font-size:17.5px;line-height:23px;color:#fff;">6</span>
<span class="t" style="left:618.33px;top:559.80px;font-size:17.5px;line-height:23px;color:#fff;">7</span>
<span class="t" style="left:700.63px;top:538.70px;font-size:17.5px;line-height:23px;color:#fff;">4</span>
<span class="t" style="left:788.43px;top:591.50px;font-size:17.5px;line-height:23px;color:#fff;">2</span>
<span class="t" style="left:460.43px;top:589.00px;font-size:17.5px;line-height:23px;color:#fff;">9</span>
<span class="t" style="left:531.63px;top:771.10px;font-size:17.5px;line-height:23px;color:#fff;">1</span>
<span class="t" style="left:486.41px;top:683.30px;font-size:17.5px;line-height:23px;color:#fff;">11</span>
<span class="t" style="left:420.63px;top:695.80px;font-size:17.5px;line-height:23px;color:#fff;">5</span>
<span class="t" style="left:344.77px;top:757.80px;font-size:17.5px;line-height:23px;color:#fff;">12</span>
<span class="t" style="left:672.27px;top:771.10px;font-size:17.5px;line-height:23px;color:#fff;">10</span>
<span class="t" style="left:312.00px;top:945.90px;font-size:14.5px;line-height:19px;color:#5c6a83;letter-spacing:-0.067px;">bubble size: resource need (category)</span>
<span class="t" style="left:588.00px;top:945.90px;font-size:14.5px;line-height:19px;color:#5c6a83;letter-spacing:0.020px;">y-axis: importance</span>
<span class="t" style="left:747.00px;top:945.90px;font-size:14.5px;line-height:19px;color:#5c6a83;letter-spacing:-0.251px;">x-axis: urgency</span>
<span class="t" style="left:291.50px;top:1003.20px;font-size:14.5px;line-height:19px;color:#5c6a83;letter-spacing:-0.051px;">Customer</span>
<span class="t" style="left:390.00px;top:1003.20px;font-size:14.5px;line-height:19px;color:#5c6a83;letter-spacing:0.289px;">Operation</span>
<span class="t" style="left:491.00px;top:1003.20px;font-size:14.5px;line-height:19px;color:#5c6a83;letter-spacing:-0.231px;">People</span>
<span class="t" style="left:570.50px;top:1003.20px;font-size:14.5px;line-height:19px;color:#5c6a83;letter-spacing:0.016px;">Technology</span>
<span class="t" style="left:679.50px;top:1003.20px;font-size:14.5px;line-height:19px;color:#5c6a83;letter-spacing:0.175px;">Innovation</span>
<span class="t" style="left:784.00px;top:1003.20px;font-size:14.5px;line-height:19px;color:#5c6a83;letter-spacing:-0.222px;">Governance</span>
</body>
</html>
